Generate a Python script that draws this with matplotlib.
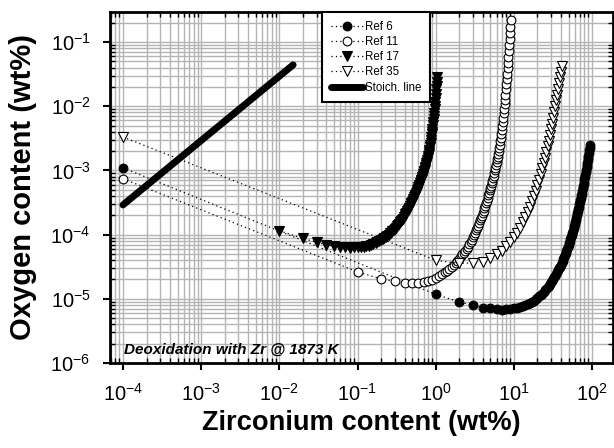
import numpy as np
import matplotlib
matplotlib.use("Agg")
import matplotlib.pyplot as plt
from matplotlib.ticker import LogLocator, NullFormatter

plt.rcParams['font.family'] = ['Liberation Sans', 'DejaVu Sans']
plt.rcParams['mathtext.fontset'] = 'custom'
plt.rcParams['mathtext.rm'] = 'Liberation Sans'
plt.rcParams['axes.unicode_minus'] = False

# first point of each ref sits at Zr = 1e-4 wt%
zr_first = 1e-4
ref6_first_log = -2.96
ref11_first_log = -3.13
ref35_first_log = -2.48

# Zr steps of the computed curves (wt%)
ref6_zr = np.arange(1, 95)
ref11_zr = np.arange(1, 92) / 10
ref17_zr = np.arange(1, 106) / 100
ref35_zr = np.arange(1, 42)

# log10 of oxygen content (wt%)
ref6_log = [
    -4.93, -5.05, -5.10, -5.14, -5.15, -5.16, -5.17, -5.16, -5.16, -5.15,
    -5.14, -5.13, -5.11, -5.10, -5.08, -5.06, -5.05, -5.03, -5.01, -4.99,
    -4.96, -4.94, -4.92, -4.89, -4.87, -4.85, -4.82, -4.80, -4.77, -4.74,
    -4.72, -4.69, -4.66, -4.64, -4.61, -4.58, -4.55, -4.52, -4.50, -4.47,
    -4.44, -4.41, -4.38, -4.35, -4.32, -4.29, -4.26, -4.22, -4.19, -4.16,
    -4.13, -4.10, -4.07, -4.03, -4.00, -3.97, -3.94, -3.90, -3.87, -3.84,
    -3.80, -3.77, -3.74, -3.70, -3.67, -3.63, -3.60, -3.57, -3.53, -3.50,
    -3.46, -3.43, -3.39, -3.36, -3.32, -3.28, -3.25, -3.21, -3.18, -3.14,
    -3.10, -3.07, -3.03, -2.99, -2.95, -2.92, -2.88, -2.84, -2.80, -2.77,
    -2.73, -2.69, -2.65, -2.61]

ref11_log = [
    -4.58, -4.69, -4.73, -4.75, -4.75, -4.75, -4.74, -4.72, -4.70, -4.67,
    -4.64, -4.62, -4.59, -4.56, -4.53, -4.50, -4.47, -4.44, -4.41, -4.38,
    -4.34, -4.31, -4.28, -4.25, -4.22, -4.19, -4.15, -4.12, -4.08, -4.04,
    -4.01, -3.97, -3.93, -3.90, -3.86, -3.82, -3.78, -3.74, -3.71, -3.67,
    -3.63, -3.59, -3.55, -3.51, -3.47, -3.43, -3.39, -3.35, -3.31, -3.27,
    -3.24, -3.20, -3.16, -3.12, -3.08, -3.04, -3.00, -2.96, -2.91, -2.87,
    -2.83, -2.79, -2.74, -2.70, -2.65, -2.60, -2.54, -2.49, -2.43, -2.37,
    -2.31, -2.24, -2.18, -2.11, -2.04, -1.97, -1.90, -1.82, -1.74, -1.66,
    -1.58, -1.50, -1.41, -1.32, -1.24, -1.14, -1.05, -0.95, -0.86, -0.76,
    -0.66]

ref17_log = [
    -3.94, -4.06, -4.12, -4.16, -4.18, -4.20, -4.20, -4.21, -4.20, -4.20,
    -4.19, -4.19, -4.18, -4.17, -4.16, -4.14, -4.13, -4.12, -4.10, -4.09,
    -4.07, -4.05, -4.04, -4.02, -4.00, -3.98, -3.97, -3.95, -3.93, -3.91,
    -3.89, -3.87, -3.85, -3.83, -3.81, -3.79, -3.77, -3.75, -3.73, -3.71,
    -3.68, -3.66, -3.64, -3.62, -3.60, -3.58, -3.56, -3.53, -3.51, -3.49,
    -3.47, -3.44, -3.42, -3.40, -3.38, -3.35, -3.33, -3.31, -3.29, -3.26,
    -3.24, -3.22, -3.20, -3.17, -3.15, -3.13, -3.10, -3.08, -3.06, -3.03,
    -3.01, -2.99, -2.96, -2.94, -2.92, -2.89, -2.87, -2.84, -2.81, -2.78,
    -2.75, -2.71, -2.68, -2.64, -2.61, -2.57, -2.53, -2.48, -2.44, -2.40,
    -2.35, -2.30, -2.25, -2.20, -2.15, -2.10, -2.04, -1.99, -1.93, -1.87,
    -1.81, -1.74, -1.68, -1.62, -1.55]

ref35_log = [
    -4.40, -4.45, -4.44, -4.42, -4.37, -4.31, -4.25, -4.18, -4.11, -4.04,
    -3.97, -3.89, -3.81, -3.73, -3.65, -3.57, -3.48, -3.40, -3.32, -3.23,
    -3.15, -3.06, -2.97, -2.89, -2.80, -2.71, -2.62, -2.54, -2.45, -2.36,
    -2.27, -2.18, -2.09, -2.00, -1.91, -1.82, -1.73, -1.64, -1.55, -1.46,
    -1.37]

# stoichiometric line end points
stoich_zr = [1e-4, 0.015]
stoich_o = [2.9e-4, 4.4e-2]

x6 = np.concatenate([[zr_first], ref6_zr])
y6 = 10 ** np.concatenate([[ref6_first_log], ref6_log])
x11 = np.concatenate([[zr_first], ref11_zr])
y11 = 10 ** np.concatenate([[ref11_first_log], ref11_log])
x17 = ref17_zr
y17 = 10 ** np.array(ref17_log)
x35 = np.concatenate([[zr_first], ref35_zr])
y35 = 10 ** np.concatenate([[ref35_first_log], ref35_log])

fig = plt.figure(figsize=(6.14, 4.48), dpi=100)
ax = fig.add_axes([110 / 614, 85 / 448, 503 / 614, 351 / 448])
ax.set_xscale('log')
ax.set_yscale('log')

dots = (0, (1, 2.5))
ax.plot(x6, y6, linestyle=dots, lw=0.9, color='black', marker='o', ms=6.3,
        mfc='black', mec='black', mew=0.8, label='Ref 6')
ax.plot(x11, y11, linestyle=dots, lw=0.9, color='black', marker='o', ms=6.3,
        mfc='white', mec='black', mew=0.8, label='Ref 11')
ax.plot(x17, y17, linestyle=dots, lw=0.9, color='black', marker='v', ms=7,
        mfc='black', mec='black', mew=0.8, label='Ref 17')
ax.plot(x35, y35, linestyle=dots, lw=0.9, color='black', marker='v', ms=7,
        mfc='white', mec='black', mew=0.8, label='Ref 35')
ax.plot(stoich_zr, stoich_o, color='black', lw=5, solid_capstyle='round',
        label='Stoich. line')

ax.set_xlim(10 ** -4.166, 10 ** 2.268)
ax.set_ylim(1e-6, 10 ** -0.533)

for axis in (ax.xaxis, ax.yaxis):
    axis.set_major_locator(LogLocator(base=10, numticks=20))
    axis.set_minor_locator(LogLocator(base=10, subs=np.arange(2, 10), numticks=20))
    axis.set_minor_formatter(NullFormatter())

ax.grid(True, which='both', color='#b4b4b4', lw=1.0)
ax.set_axisbelow(True)

ax.tick_params(which='major', direction='out', length=5, width=1.5,
               labelsize=14.5, pad=9, top=False, right=False)
ax.tick_params(which='minor', direction='in', length=3.5, width=1.0,
               top=True, right=True)
for sp in ax.spines.values():
    sp.set_linewidth(2)

ax.set_xlabel('Zirconium content (wt%)', fontsize=19.6, fontweight='bold')
ax.set_ylabel('Oxygen content (wt%)', fontsize=21, fontweight='bold')
ax.xaxis.set_label_coords(0.5, -0.133)
ax.yaxis.set_label_coords(-0.145, 0.5)

ax.text(0.028, 0.026, 'Deoxidation with Zr @ 1873 K', transform=ax.transAxes,
        fontsize=11, fontweight='bold', style='italic', va='baseline')

leg = ax.legend(loc='upper left', bbox_to_anchor=(0.4215, 1.0), borderaxespad=0,
                fontsize=8.3, fancybox=False, edgecolor='black', framealpha=1,
                handlelength=2.8, handletextpad=0.2, labelspacing=0.28,
                borderpad=0.75)
leg.get_frame().set_linewidth(1.5)

fig.savefig('out.png', dpi=100)
